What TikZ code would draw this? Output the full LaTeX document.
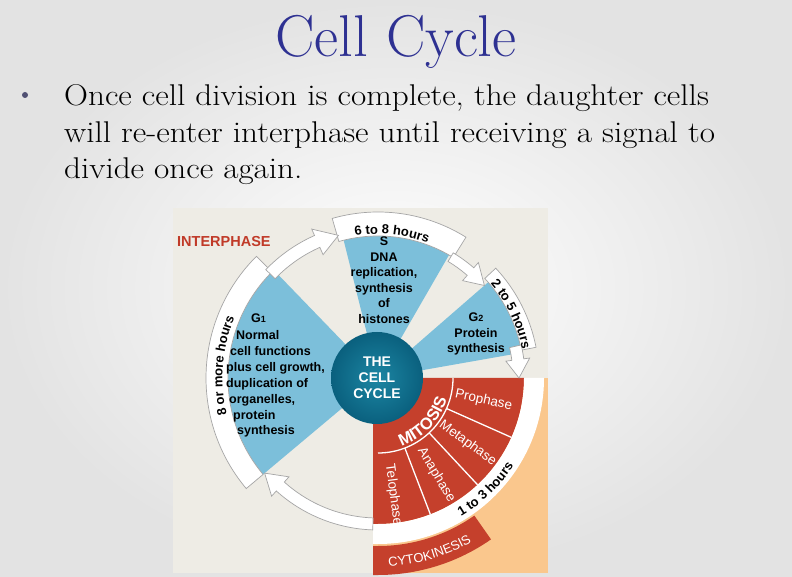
\documentclass[tikz,border=0pt]{standalone}
\usepackage{fontspec}
\usepackage{tikz}
\usetikzlibrary{decorations.text,calc}
\newfontfamily\arialfont{Liberation Sans}
\definecolor{slidenavy}{RGB}{46,49,146}
\definecolor{bulletgray}{RGB}{80,80,115}
\definecolor{panelgray}{RGB}{238,236,229}
\definecolor{phaseblue}{RGB}{124,191,218}
\definecolor{mitored}{RGB}{197,64,44}
\definecolor{peach}{RGB}{250,199,141}
\definecolor{ringgray}{RGB}{165,165,165}
\definecolor{hubteal}{RGB}{28,134,163}
\definecolor{hubdark}{RGB}{10,96,126}
\definecolor{interred}{RGB}{192,58,40}
\newcommand\hourfont{\arialfont\bfseries\fontsize{13}{13}\selectfont}
\newcommand\slideline[1]{\scalebox{1.105}[1]{#1}}

\tikzset{
  ringband/.style={fill=white,draw=ringgray,line width=0.7pt},
  boxtext/.style={font=\arialfont\bfseries\fontsize{12.5}{15.5}\selectfont,inner sep=0pt},
  phasetext/.style={font=\arialfont\fontsize{13.5}{14}\selectfont,text=white,inner sep=0pt},
  slidetext/.style={font=\fontsize{30}{36}\selectfont,anchor=base west,inner sep=0pt},
  divider/.style={white,line width=1.3pt}
}

\begin{document}
\begin{tikzpicture}[x=1pt,y=1pt]
    \useasboundingbox (0,0) rectangle (792,576);
    \shade[inner color=white,outer color=black!11] (0,0) rectangle (792,576);

    % Title and text
    \node[anchor=base,text=slidenavy,font=\fontsize{59}{64}\selectfont,inner sep=0pt] (title) at (396,519) {Cell Cycle};
    \node[circle,fill=bulletgray,inner sep=0pt,minimum size=6pt] (bullet) at (25,481) {};
    \node[slidetext] (line1) at (64,470) {\slideline{Once cell division is complete, the daughter cells}};
    \node[slidetext] (line2) at (64,433.5) {\slideline{will re-enter interphase until receiving a signal to}};
    \node[slidetext] (line3) at (64,397) {\slideline{divide once again.}};

    % Panel
    \fill[panelgray] (173,3) rectangle (548,368);
    \fill[peach] (373,3) rectangle (548,198);

    \begin{scope}[shift={(378,198)}]
        % Mitosis
        \fill[mitored] (-5,0) -- (146,0) arc[start angle=0,end angle=-90,radius=146] -- (-5,-146) -- cycle;
        \fill[mitored] (-5,-168) -- (0,-168) arc[start angle=-90,end angle=-55,radius=168]
            -- (-55:197) arc[start angle=-55,end angle=-90,radius=197] -- (-5,-197) -- cycle;
        \fill[white] (146,0) -- (166,0) arc[start angle=0,end angle=-90,radius=166] -- (-5,-166)
            -- (-5,-146) -- (0,-146) arc[start angle=-90,end angle=0,radius=146] -- cycle;
        \draw[divider] (75,0) arc[start angle=0,end angle=-90,radius=75];
        \foreach \ang in {-24,-47,-69}
            \draw[divider] (\ang:75) -- (\ang:146);
        \foreach \ang/\rad/\phase in {-12/108/Prophase,-36/111/Metaphase,-59/113/Anaphase,-82.5/118/Telophase}
            \node[phasetext,rotate=\ang] (\phase) at (\ang:\rad) {\phase};

        % Interphase sectors
        \fill[phaseblue] (0,0) -- (134:150) arc[start angle=134,end angle=220,radius=150] -- cycle;
        \fill[phaseblue] (0,0) -- (60:142) arc[start angle=60,end angle=104,radius=142] -- cycle;
        \fill[phaseblue] (0,0) -- (10:146) arc[start angle=10,end angle=41,radius=146] -- cycle;

        % Bands
        \draw[ringband] (135:150) arc[start angle=135,end angle=220,radius=150] -- (220:172)
            arc[start angle=220,end angle=135,radius=172] -- cycle;
        \draw[ringband] (58:142) arc[start angle=58,end angle=106,radius=142] -- (106:166)
            arc[start angle=106,end angle=58,radius=166] -- cycle;
        \draw[ringband] (11:146) arc[start angle=11,end angle=43,radius=146] -- (43:161)
            arc[start angle=43,end angle=11,radius=161] -- cycle;

        % Arrows
        \draw[ringband] (136:156) arc[start angle=136,end angle=114,radius=156] -- (114:163)
            -- (105.5:148) -- (114:135) -- (114:143) arc[start angle=114,end angle=136,radius=143] -- cycle;
        \draw[ringband] (59:146) arc[start angle=59,end angle=49,radius=146] -- (49:153)
            -- (41:141) -- (49:129) -- (49:136) arc[start angle=49,end angle=59,radius=136] -- cycle;
        \draw[ringband] (13:147) arc[start angle=13,end angle=7.5,radius=147] -- (7.5:153)
            -- (0:141) -- (7.5:129) -- (7.5:135) arc[start angle=7.5,end angle=13,radius=135] -- cycle;
        \draw[ringband] (268:152) arc[start angle=268,end angle=228,radius=152] -- (228:159)
            -- (220:148) -- (228:133) -- (228:140) arc[start angle=228,end angle=268,radius=140] -- cycle;

        % Hub
        \node[circle,inner color=hubteal,outer color=hubdark,minimum size=92pt,inner sep=0pt,
            text=white,align=center,font=\arialfont\bfseries\fontsize{14}{16}\selectfont] (hub) at (-1,0) {THE\\CELL\\CYCLE};

        % Curved labels
        \path[decorate,decoration={text along path,text align=center,text={|\hourfont|6 to 8 hours}}]
            (144.5:144) arc[start angle=144.5,end angle=24.5,radius=144];
        \path[decorate,decoration={text along path,text align=center,text={|\hourfont|2 to 5 hours}}]
            (85.6:147) arc[start angle=85.6,end angle=-34.4,radius=147];
        \path[decorate,decoration={text along path,text align=center,text={|\hourfont|8 or more hours}}]
            (235.5:155.5) arc[start angle=235.5,end angle=115.5,radius=155.5];
        \path[decorate,decoration={text along path,text align=center,text={|\hourfont|1 to 3 hours}}]
            (-106:161.5) arc[start angle=-106,end angle=14,radius=161.5];
        \path[decorate,decoration={text along path,text align=center,text color=white,
            text={|\arialfont\fontsize{13}{13}\selectfont|CYTOKINESIS}}]
            (-133.5:189) arc[start angle=-133.5,end angle=-13.5,radius=189];
        \path[decorate,decoration={text along path,text align=center,text color=white,
            text={|\arialfont\bfseries\fontsize{16.5}{16.5}\selectfont|MITOSIS}}]
            (-104:72) arc[start angle=-104,end angle=16,radius=72];
    \end{scope}

    % Interphase texts
    \node[anchor=west,text=interred,font=\arialfont\bfseries\fontsize{14.5}{15}\selectfont,inner sep=0pt] (interphase) at (177,334) {INTERPHASE};
    \foreach \gx/\gy/\gt [count=\k] in {251/253.5/{G{\fontsize{9}{9}\selectfont 1}},236/236.5/Normal,230/220.5/{cell functions},
        226/204.5/{plus cell growth,},226/188.5/{duplication of},229/172.5/{organelles,},233/156.5/protein,237/141.5/synthesis}
        \node[boxtext,anchor=base west] (gone\k) at (\gx,\gy) {\gt};
    \node[boxtext,align=center] (sphase) at (384,296) {S\\DNA\\replication,\\synthesis\\of\\histones};
    \node[boxtext,align=center] (gtwo) at (476,242) {G{\fontsize{9}{9}\selectfont 2}\\Protein\\synthesis};
\end{tikzpicture}
\end{document}
